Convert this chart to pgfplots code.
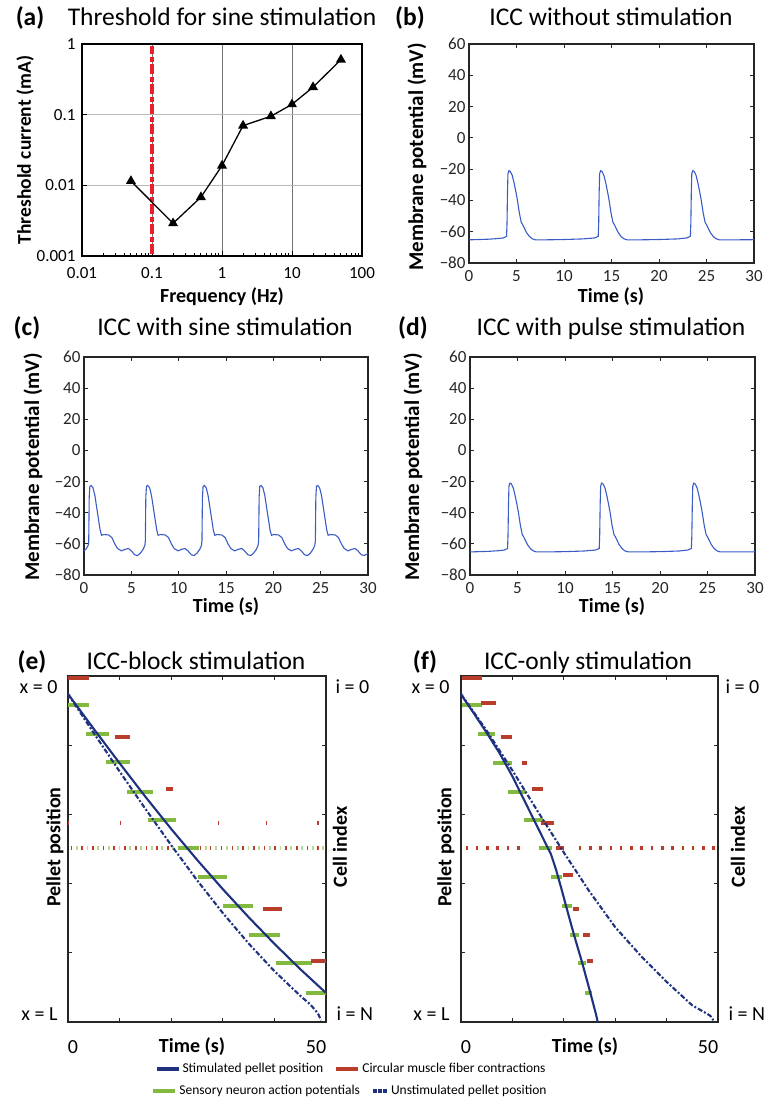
\documentclass[border=0pt]{standalone}
\usepackage{fontspec}
\setmainfont{Carlito}
\usepackage{pgfplots}
\usepackage{pgfplotstable}
\pgfplotsset{compat=1.18}
\definecolor{trace}{RGB}{58,92,196}
\definecolor{navy}{RGB}{30,50,128}
\definecolor{sgreen}{RGB}{130,186,64}
\definecolor{lgreen}{RGB}{185,215,145}
\definecolor{mred}{RGB}{186,60,42}
\definecolor{vred}{RGB}{236,30,44}
\newcommand{\fs}[1]{\fontsize{#1}{#1}\selectfont}

\pgfplotstableread{
t v
0 -65.2
1 -65.0
2 -64.8
3 -64.4
3.6 -64.0
3.95 -63.0
4.0 -55
4.05 -35
4.1 -23
4.2 -21
4.35 -21.5
4.55 -24
4.75 -29
4.95 -35
5.1 -40
5.3 -48
5.5 -54
5.65 -55.5
5.85 -58
6.05 -60.5
6.35 -63
6.65 -64.5
7.0 -65.2
8 -65.2
10 -65.0
12 -64.6
13.2 -64.0
13.6 -63.0
13.65 -55
13.7 -35
13.75 -23
13.85 -21
14.0 -21.5
14.2 -24
14.4 -29
14.6 -35
14.75 -40
14.95 -48
15.15 -54
15.3 -55.5
15.5 -58
15.7 -60.5
16.0 -63
16.3 -64.5
16.65 -65.2
18 -65.2
20 -65.0
22 -64.6
22.9 -64.0
23.3 -63.0
23.35 -55
23.4 -35
23.45 -23
23.55 -21
23.7 -21.5
23.9 -24
24.1 -29
24.3 -35
24.45 -40
24.65 -48
24.85 -54
25.0 -55.5
25.2 -58
25.4 -60.5
25.7 -63
26.0 -64.5
26.35 -65.2
28 -65.2
30 -65.1
}\wavebd

\pgfplotstableread{
t v
0 -64.5
0.2 -63.5
0.4 -61.5
0.48 -60
0.5 -58
0.55 -30
0.62 -23
0.75 -22.5
0.95 -24
1.15 -29
1.35 -37
1.55 -45
1.7 -51
1.85 -54.5
2.1 -54
2.6 -54.3
2.95 -56
3.25 -60
3.55 -63
3.95 -64.5
4.35 -63.5
4.7 -63
5.0 -64.5
5.35 -67
5.65 -67.5
5.95 -66
6.25 -63.5
6.43 -61
6.48 -58
6.53 -30
6.6 -23
6.73 -22.5
6.93 -24
7.13 -29
7.33 -37
7.53 -45
7.68 -51
7.83 -54.5
8.08 -54
8.58 -54.3
8.93 -56
9.23 -60
9.53 -63
9.93 -64.5
10.33 -63.5
10.68 -63
10.98 -64.5
11.33 -67
11.63 -67.5
11.93 -66
12.23 -63.5
12.41 -61
12.46 -58
12.51 -30
12.58 -23
12.71 -22.5
12.91 -24
13.11 -29
13.31 -37
13.51 -45
13.66 -51
13.81 -54.5
14.06 -54
14.56 -54.3
14.91 -56
15.21 -60
15.51 -63
15.91 -64.5
16.31 -63.5
16.66 -63
16.96 -64.5
17.31 -67
17.61 -67.5
17.91 -66
18.21 -63.5
18.39 -61
18.45 -58
18.5 -30
18.57 -23
18.7 -22.5
18.9 -24
19.1 -29
19.3 -37
19.5 -45
19.65 -51
19.8 -54.5
20.05 -54
20.55 -54.3
20.9 -56
21.2 -60
21.5 -63
21.9 -64.5
22.3 -63.5
22.65 -63
22.95 -64.5
23.3 -67
23.6 -67.5
23.9 -66
24.2 -63.5
24.38 -61
24.44 -58
24.49 -30
24.56 -23
24.69 -22.5
24.89 -24
25.09 -29
25.29 -37
25.49 -45
25.64 -51
25.79 -54.5
26.04 -54
26.54 -54.3
26.89 -56
27.19 -60
27.49 -63
27.89 -64.5
28.29 -63.5
28.64 -63
28.94 -64.5
29.29 -67
29.59 -67.5
29.9 -66.5
30 -66
}\wavec

\pgfplotsset{
 vm/.style={scale only axis, anchor=north west, width=285pt, height=219pt,
  xmin=0, xmax=30, ymin=-80, ymax=60,
  xtick={0,5,10,15,20,25,30}, xticklabels={0,5,10,15,20,25,30},
  ytick={-80,-60,-40,-20,0,20,40,60},
  yticklabels={−80,−60,−40,−20,0,20,40,60},
  tick align=inside, major tick length=4pt,
  tick label style={font=\fs{17}, text=black!85},
  xticklabel style={yshift=-4pt},
  axis line style={line width=1.3pt, black!85},
  tick style={line width=0.9pt, black!85},
  clip=false},
 pp/.style={scale only axis, anchor=north west, width=258pt, height=346pt,
  xmin=0, xmax=50, ymin=0, ymax=100, y dir=reverse,
  xtick={10,20,30,40}, ytick={20,40,60,80},
  xticklabels={}, yticklabels={},
  tick align=inside, major tick length=4pt,
  axis line style={line width=1.3pt, black!85},
  tick style={line width=0.9pt, black!85},
  clip=false, unbounded coords=jump,
  legend image code/.code={\draw[##1] (0pt,0pt) -- (22pt,0pt);},
  legend style={draw=none, fill=none, font=\fs{13.5}, legend columns=2,
    /tikz/every even column/.append style={column sep=9pt}},
  legend cell align=left},
 bar/.style={line width=4pt, forget plot},
}

\begin{document}
\begin{tikzpicture}[x=1pt,y=1pt]
\path (0,0) rectangle (765,1102);

% ---------- (a)
\begin{axis}[at={(82pt,1058pt)}, anchor=north west, scale only axis, width=280pt, height=212pt,
 xmode=log, ymode=log, xmin=0.01, xmax=100, ymin=0.001, ymax=1,
 xtick={0.01,0.1,1,10,100}, xticklabels={0.01,0.1,1,10,100},
 ytick={0.001,0.01,0.1,1}, yticklabels={0.001,0.01,0.1,1},
 xtick pos=left, ytick pos=left, yminorticks=false,
 tick align=inside, major tick length=5pt, minor tick length=3pt,
 grid=major, x grid style={black!55, line width=0.7pt}, y grid style={black!28, line width=0.7pt},
 tick label style={font=\fs{17}},
 xticklabel style={yshift=-8pt}, yticklabel style={xshift=-3pt},
 axis line style={line width=1.4pt}, tick style={line width=0.9pt, black}, clip=false]
\addplot[vred, line width=4.5pt, dash pattern=on 10pt off 2.5pt on 5pt off 2.5pt] coordinates {(0.1,0.00105) (0.1,0.95)};
\addplot[black, line width=1.3pt, mark=triangle*, mark size=4.5pt] coordinates {
(0.05,0.0115) (0.2,0.0029) (0.5,0.0068) (1,0.019) (2,0.07) (5,0.095) (10,0.14) (20,0.245) (50,0.6)};
\end{axis}

% ---------- (b)
\begin{axis}[vm, at={(469pt,1058pt)}]
\addplot[trace, line width=1.1pt] table[x=t,y=v]{\wavebd};
\end{axis}

% ---------- (c)
\begin{axis}[vm, at={(84pt,745pt)}, width=284pt, height=218pt]
\addplot[trace, line width=1.1pt] table[x=t,y=v]{\wavec};
\end{axis}

% ---------- (d)
\begin{axis}[vm, at={(470pt,745pt)}, height=218pt]
\addplot[trace, line width=1.1pt] table[x=t,y=v]{\wavebd};
\end{axis}

% ---------- (e)
\begin{axis}[pp, at={(68pt,426pt)},
  legend style={at={(axis description cs:1.097,-0.136)}, anchor=center}]
\addlegendimage{navy, line width=4pt}
\addlegendentry{Stimulated pellet position}
\addlegendimage{mred, line width=4pt}
\addlegendentry{Circular muscle fiber contractions}
% dotted row (green)
\addplot[bar, lgreen] coordinates {
(1.5,49.8)(1.85,49.8)(nan,nan)(3.6,49.8)(3.95,49.8)(nan,nan)(5.7,49.8)(6.05,49.8)(nan,nan)
(7.7,49.8)(8.05,49.8)(nan,nan)(9.8,49.8)(10.15,49.8)(nan,nan)(11.9,49.8)(12.25,49.8)(nan,nan)
(14.0,49.8)(14.35,49.8)(nan,nan)(16.1,49.8)(16.45,49.8)(nan,nan)(18.1,49.8)(18.45,49.8)(nan,nan)
(20.2,49.8)(20.55,49.8)(nan,nan)(26.5,49.8)(26.85,49.8)(nan,nan)(28.5,49.8)(28.85,49.8)(nan,nan)
(30.6,49.8)(30.95,49.8)(nan,nan)(32.7,49.8)(33.05,49.8)(nan,nan)(34.8,49.8)(35.15,49.8)(nan,nan)
(36.9,49.8)(37.25,49.8)(nan,nan)(38.9,49.8)(39.25,49.8)(nan,nan)(41.0,49.8)(41.35,49.8)(nan,nan)
(43.1,49.8)(43.45,49.8)(nan,nan)(45.2,49.8)(45.55,49.8)(nan,nan)(47.3,49.8)(47.65,49.8)(nan,nan)
(49.3,49.8)(49.65,49.8)};
% dotted row (red)
\addplot[bar, mred] coordinates {
(0.5,49.8)(0.8,49.8)(nan,nan)(2.6,49.8)(2.9,49.8)(nan,nan)(4.7,49.8)(5.0,49.8)(nan,nan)
(6.7,49.8)(7.0,49.8)(nan,nan)(8.8,49.8)(9.1,49.8)(nan,nan)(10.9,49.8)(11.2,49.8)(nan,nan)
(13.0,49.8)(13.3,49.8)(nan,nan)(15.1,49.8)(15.4,49.8)(nan,nan)(17.1,49.8)(17.4,49.8)(nan,nan)
(19.2,49.8)(19.5,49.8)(nan,nan)(25.5,49.8)(25.8,49.8)(nan,nan)(27.5,49.8)(27.8,49.8)(nan,nan)
(29.6,49.8)(29.9,49.8)(nan,nan)(31.7,49.8)(32.0,49.8)(nan,nan)(33.8,49.8)(34.1,49.8)(nan,nan)
(35.9,49.8)(36.2,49.8)(nan,nan)(37.9,49.8)(38.2,49.8)(nan,nan)(40.0,49.8)(40.3,49.8)(nan,nan)
(42.1,49.8)(42.4,49.8)(nan,nan)(44.2,49.8)(44.5,49.8)(nan,nan)(46.3,49.8)(46.6,49.8)(nan,nan)
(48.3,49.8)(48.6,49.8)};
% small red ticks
\addplot[bar, mred] coordinates {
(0,42.4)(0.25,42.4)(nan,nan)(10,42.4)(10.25,42.4)(nan,nan)(29.1,42.4)(29.35,42.4)(nan,nan)
(38.3,42.4)(38.55,42.4)(nan,nan)(48.3,42.4)(48.55,42.4)};
% sensory neuron APs
\addplot[bar, sgreen] coordinates {
(0,8.5)(4.1,8.5)(nan,nan)(3.5,16.9)(8.0,16.9)(nan,nan)(7.4,25)(12.1,25)(nan,nan)
(11.5,33.4)(16.4,33.4)(nan,nan)(15.6,41.6)(20.9,41.6)(nan,nan)(21.3,49.8)(25.3,49.8)(nan,nan)
(25.1,58)(30.8,58)(nan,nan)(30,66.5)(35.8,66.5)(nan,nan)(35,74.9)(41.1,74.9)(nan,nan)
(40.3,83)(47.2,83)(nan,nan)(46.1,91.5)(50,91.5)};
% circular muscle contractions
\addplot[bar, mred] coordinates {
(0,0.6)(4.1,0.6)(nan,nan)(9.1,17.5)(12.1,17.5)(nan,nan)(19,32.6)(20.4,32.6)(nan,nan)
(37.8,67.4)(41.4,67.4)(nan,nan)(47,82.3)(50,82.3)};
% unstimulated pellet
\addplot[navy, line width=2.1pt, forget plot, dash pattern=on 5pt off 2pt on 2pt off 2pt] coordinates {
(0,5.2)(5,16.5)(10,27.6)(15,38.4)(20,48.9)(25,59)(30,68.5)(35,77.3)(40,85.3)(45,92.4)(47,95)(48,96.7)(48.6,98)(49,99.5)};
% stimulated pellet
\addplot[navy, line width=2.1pt, forget plot] coordinates {
(0,5.2)(5,15.3)(10,25.2)(15,34.9)(20,44.2)(25,53.1)(30,61.6)(35,69.7)(40,77.4)(45,84.7)(50,91.6)};
\end{axis}

% ---------- (f)
\begin{axis}[pp, at={(461pt,426pt)}, width=257pt,
  legend style={at={(axis description cs:-0.432,-0.1994)}, anchor=center}]
\addlegendimage{sgreen, line width=4pt}
\addlegendentry{Sensory neuron action potentials}
\addlegendimage{navy, line width=4pt, dash pattern=on 3.5pt off 1.5pt, legend image code/.code={\draw[navy, line width=4pt, dash pattern=on 3.5pt off 1.5pt] (6pt,0pt) -- (20pt,0pt);}}
\addlegendentry{Unstimulated pellet position}
% dotted row (red)
\addplot[bar, mred] coordinates {
(0.9,49.8)(1.4,49.8)(nan,nan)(2.9,49.8)(3.4,49.8)(nan,nan)(4.9,49.8)(5.4,49.8)(nan,nan)
(6.9,49.8)(7.4,49.8)(nan,nan)(8.9,49.8)(9.4,49.8)(nan,nan)(10.9,49.8)(11.4,49.8)(nan,nan)
(22.9,49.8)(23.4,49.8)(nan,nan)(24.9,49.8)(25.4,49.8)(nan,nan)(26.9,49.8)(27.4,49.8)(nan,nan)
(28.9,49.8)(29.4,49.8)(nan,nan)(30.9,49.8)(31.4,49.8)(nan,nan)(32.9,49.8)(33.4,49.8)(nan,nan)
(34.9,49.8)(35.4,49.8)(nan,nan)(36.9,49.8)(37.4,49.8)(nan,nan)(38.9,49.8)(39.4,49.8)(nan,nan)
(40.9,49.8)(41.4,49.8)(nan,nan)(42.9,49.8)(43.4,49.8)(nan,nan)(44.9,49.8)(45.4,49.8)(nan,nan)
(46.9,49.8)(47.4,49.8)(nan,nan)(48.9,49.8)(49.4,49.8)};
% sensory neuron APs
\addplot[bar, sgreen] coordinates {
(0.1,8.5)(4.0,8.5)(nan,nan)(3.4,16.9)(6.6,16.9)(nan,nan)(6.3,25)(9.9,25)(nan,nan)
(9.2,33.4)(12.6,33.4)(nan,nan)(12.3,41.6)(15.9,41.6)(nan,nan)(15.2,49.8)(17.8,49.8)(nan,nan)
(17.6,58)(19.6,58)(nan,nan)(19.6,66.5)(21.5,66.5)(nan,nan)(21.3,74.9)(23.0,74.9)(nan,nan)
(22.8,83)(24.3,83)(nan,nan)(24.1,91.5)(25.5,91.5)};
% circular muscle contractions
\addplot[bar, mred] coordinates {
(0.1,0.6)(4.0,0.6)(nan,nan)(3.9,7.7)(6.9,7.7)(nan,nan)(7.7,17.5)(9.9,17.5)(nan,nan)
(11.8,25)(12.8,25)(nan,nan)(13.8,32.6)(15.9,32.6)(nan,nan)(15.5,42.4)(18.0,42.4)(nan,nan)
(18.5,49.8)(20.0,49.8)(nan,nan)(19.8,57.5)(21.7,57.5)(nan,nan)(21.7,67.4)(23.0,67.4)(nan,nan)
(23.8,74.9)(25.1,74.9)(nan,nan)(24.5,82.4)(25.7,82.4)};
% unstimulated pellet
\addplot[navy, line width=2.1pt, forget plot, dash pattern=on 5pt off 2pt on 2pt off 2pt] coordinates {
(0,5.2)(5,15.8)(10,27.3)(15,39.3)(20,51)(25,62.3)(30,72.6)(35,80.9)(40,88.4)(45,95.2)(47.5,97.3)(48.5,98.2)(49.1,99.5)};
% stimulated pellet
\addplot[navy, line width=2.1pt, forget plot] coordinates {
(0,5.3)(2.5,10.8)(5,16.4)(7.5,22.3)(10,29)(12.5,36.5)(15,44)(16.5,48.5)(17.5,51.5)(18.5,56)(19.5,61.3)(20.5,66.8)(22,74.9)(23.6,83)(25.1,91.2)(26.3,98)(26.6,100)};
\end{axis}

% ---------- titles
\node[anchor=base, font=\bfseries\fs{25.5}] at (30,1076) {(a)};
\node[anchor=base, font=\fs{25.5}] at (222,1076) {Threshold for sine stimulation};
\node[anchor=base, font=\bfseries\fs{25.5}] at (410,1076) {(b)};
\node[anchor=base, font=\fs{25.5}] at (611,1076) {ICC without stimulation};
\node[anchor=base, font=\bfseries\fs{25.5}] at (27,766) {(c)};
\node[anchor=base, font=\fs{25.5}] at (225,766) {ICC with sine stimulation};
\node[anchor=base, font=\bfseries\fs{25.5}] at (413,766) {(d)};
\node[anchor=base, font=\fs{25.5}] at (611,766) {ICC with pulse stimulation};
\node[anchor=base, font=\bfseries\fs{25.5}] at (32,432) {(e)};
\node[anchor=base, font=\fs{25.5}] at (196,432) {ICC-block stimulation};
\node[anchor=base, font=\bfseries\fs{25.5}] at (425,432) {(f)};
\node[anchor=base, font=\fs{25.5}] at (588,432) {ICC-only stimulation};

% ---------- axis labels
\node[rotate=90, font=\bfseries\fs{19.5}] at (25,952) {Threshold current (mA)};
\node[font=\bfseries\fs{20}] at (222,805) {Frequency (Hz)};
\node[rotate=90, font=\bfseries\fs{21}] at (417,945) {Membrane potential (mV)};
\node[font=\bfseries\fs{20}] at (611,805) {Time (s)};
\node[rotate=90, font=\bfseries\fs{21}] at (33,635) {Membrane potential (mV)};
\node[font=\bfseries\fs{20}] at (226,495) {Time (s)};
\node[rotate=90, font=\bfseries\fs{21}] at (413,635) {Membrane potential (mV)};
\node[font=\bfseries\fs{20}] at (612,495) {Time (s)};

% (e) labels
\node[rotate=90, font=\bfseries\fs{20}] at (55,255) {Pellet position};
\node[rotate=90, font=\bfseries\fs{20}] at (340,255) {Cell index};
\node[anchor=east, font=\fs{20}] at (61,415) {x = 0};
\node[anchor=east, font=\fs{20}] at (61,88) {x = L};
\node[anchor=west, font=\fs{20}] at (332,415) {i = 0};
\node[anchor=west, font=\fs{20}] at (333,88) {i = N};
\node[font=\fs{20}] at (73,55) {0};
\node[font=\fs{20}] at (316,55) {50};
\node[font=\bfseries\fs{20}] at (192,55) {Time (s)};
% (f) labels
\node[rotate=90, font=\bfseries\fs{20}] at (446,255) {Pellet position};
\node[rotate=90, font=\bfseries\fs{20}] at (738,255) {Cell index};
\node[anchor=east, font=\fs{20}] at (453,415) {x = 0};
\node[anchor=east, font=\fs{20}] at (453,88) {x = L};
\node[anchor=west, font=\fs{20}] at (722,415) {i = 0};
\node[anchor=west, font=\fs{20}] at (725,88) {i = N};
\node[font=\fs{20}] at (466,55) {0};
\node[font=\fs{20}] at (708,55) {50};
\node[font=\bfseries\fs{20}] at (585,55) {Time (s)};
\end{tikzpicture}
\end{document}
